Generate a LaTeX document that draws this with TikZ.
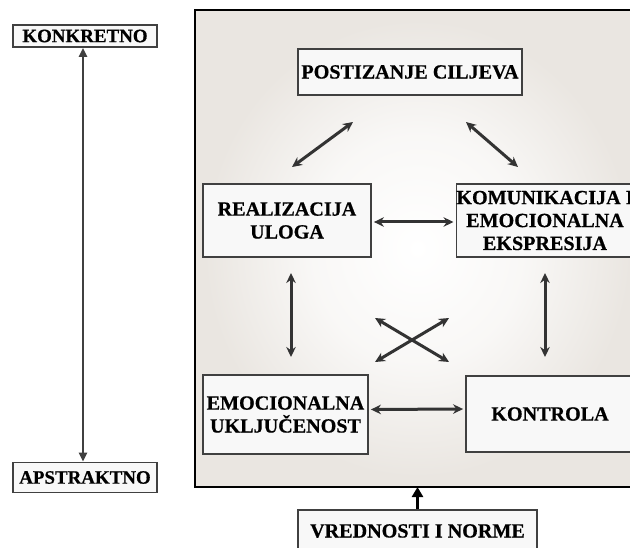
\documentclass[tikz,border=0pt]{standalone}
\usepackage{fontspec}
\setmainfont{Liberation Serif}[BoldFeatures={FakeBold=0.6}]
\usetikzlibrary{arrows.meta}
\definecolor{boxfill}{HTML}{F8F8F8}
\definecolor{boxdraw}{HTML}{404040}
\definecolor{arrowcol}{HTML}{333333}
\definecolor{beige}{HTML}{EAE6E1}
\pgfdeclareradialshading{panelshade}{\pgfpoint{0bp}{0bp}}{color(0bp)=(white); color(12bp)=(white!70!beige); color(24bp)=(beige); color(50bp)=(beige)}
\tikzset{
  box/.style={draw=boxdraw, line width=1.8bp, fill=boxfill, align=center, inner sep=0pt,
    font=\bfseries\fontsize{20.2}{23}\selectfont},
  scalebox/.style={box, font=\bfseries\fontsize{19}{23}\selectfont},
  conn/.style={draw=arrowcol, line width=3bp, {Stealth[length=10bp,width=9.5bp]}-{Stealth[length=10bp,width=9.5bp]}},
  scale conn/.style={draw=boxdraw, line width=2.6bp, {Triangle[length=9bp,width=8bp]}-{Triangle[length=9bp,width=8bp]}},
  up conn/.style={draw=black, line width=2.8bp, -{Triangle[length=10bp,width=11bp]}}
}
\begin{document}
\begin{tikzpicture}[x=1bp,y=-1bp]
\useasboundingbox (0,0) rectangle (630,548);
\clip (0,0) rectangle (630,548);
\fill[white] (0,0) rectangle (630,548);
% panel
\shade[shading=panelshade] (195,10) rectangle (640,487);
\draw[black, line width=2.4bp] (195,10) rectangle (640,487);

% scale boxes
\node[scalebox, minimum width=144bp, minimum height=22bp] (konk) at (85,36) {KONKRETNO};
\node[scalebox, minimum width=144bp, minimum height=30bp] (aps) at (85,477.5) {APSTRAKTNO};
\draw[scale conn] (konk.south -| 83,0) -- (aps.north -| 83,0);

% main boxes
\node[box, minimum width=224bp, minimum height=46bp] (post) at (410,72) {POSTIZANJE CILJEVA};
\node[box, minimum width=168bp, minimum height=73bp] (real) at (287,220.5) {REALIZACIJA\\ULOGA};
\node[box, minimum width=176bp, minimum height=73bp] (komu) at (545,220.5) {KOMUNIKACIJA I\\EMOCIONALNA\\EKSPRESIJA};
\node[box, minimum width=165bp, minimum height=79bp] (emo) at (285.5,414.5) {EMOCIONALNA\\UKLJUČENOST};
\node[box, minimum width=168bp, minimum height=76bp] (kont) at (550,414) {KONTROLA};
\node[box, minimum width=239bp, minimum height=42bp] (vred) at (417.5,531) {VREDNOSTI I NORME};

% connector end points
\coordinate (pr1) at (292,167); \coordinate (pr2) at (353,122);
\coordinate (pk1) at (466,122); \coordinate (pk2) at (518,167);
\coordinate (re1) at (291,273); \coordinate (re2) at (291,357);
\coordinate (ke1) at (545,273); \coordinate (ke2) at (545,357);
\coordinate (x1) at (375,318); \coordinate (x2) at (449,362);
\coordinate (x3) at (449,318); \coordinate (x4) at (375,362);
\coordinate (panelbottom) at (417.5,487);

\draw[conn] (pr1) -- (pr2);
\draw[conn] (pk1) -- (pk2);
\draw[conn] ([xshift=2bp,yshift=-1.5bp]real.east) -- ([xshift=-2bp,yshift=-1.5bp]komu.west);
\draw[conn] (re1) -- (re2);
\draw[conn] (ke1) -- (ke2);
\draw[conn] (x1) -- (x2);
\draw[conn] (x3) -- (x4);
\draw[conn] ([xshift=2bp,yshift=5bp]emo.east) -- ([xshift=-2bp,yshift=5bp]kont.west);
\draw[up conn] (vred.north) -- (panelbottom);
\end{tikzpicture}
\end{document}
